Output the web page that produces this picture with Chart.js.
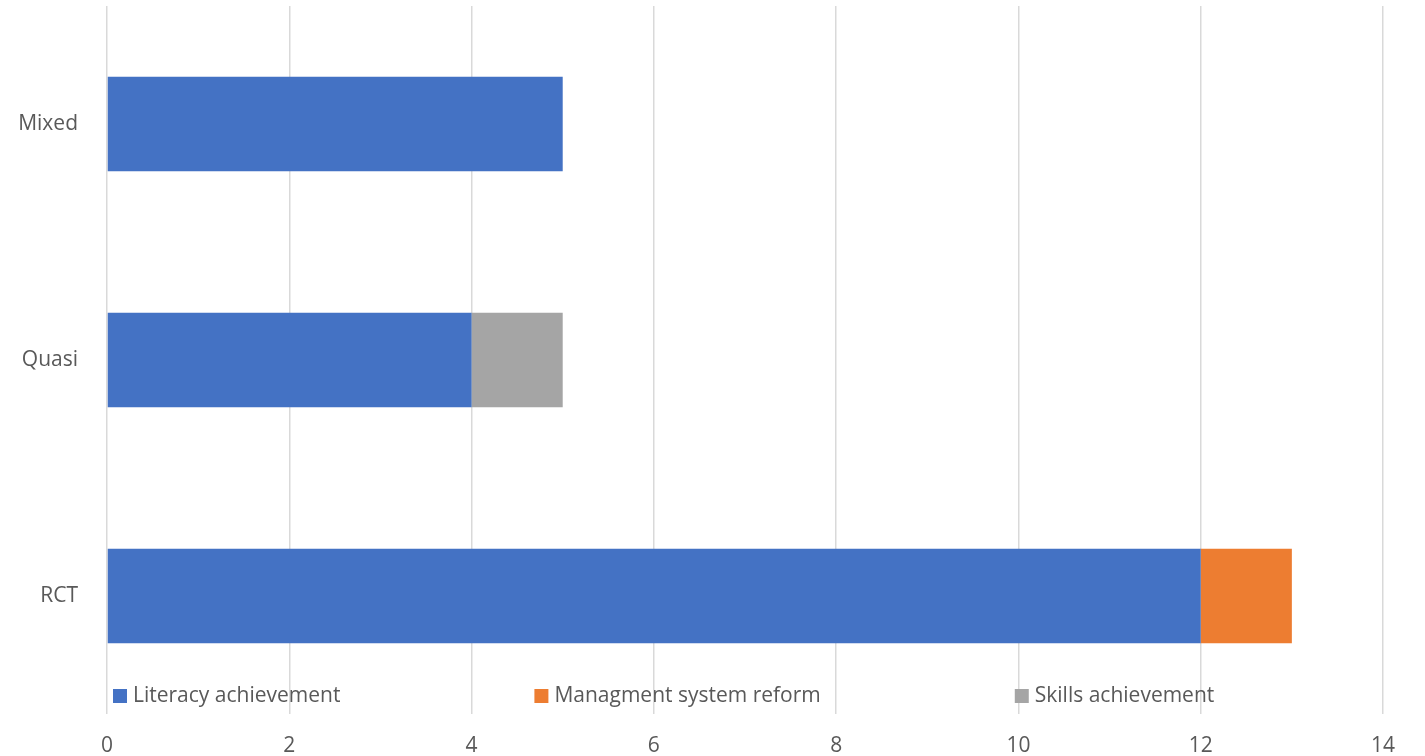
<!DOCTYPE html>
<html>
<head>
<meta charset="utf-8">
<script src="https://cdn.jsdelivr.net/npm/chart.js@4/dist/chart.umd.min.js"></script>
<style>
  html, body { margin: 0; padding: 0; background: #fff; }
  #wrap { width: 1425px; height: 756px; }
</style>
</head>
<body>
<div id="wrap"><canvas id="c" width="1425" height="756"></canvas></div>
<script>
const categories = ["Mixed", "Quasi", "RCT"];
const literacy = [5, 4, 12];
const management = [0, 0, 1];
const skills = [0, 1, 0];
const xTicks = [0, 2, 4, 6, 8, 10, 12, 14];

const FONT = "'Open Sans', 'Segoe UI', sans-serif";
const TEXT = "#595959";

// legend sits inside the plot, over the gridlines, like the Excel original
const insideLegend = {
  id: "insideLegend",
  afterDraw(chart) {
    const ctx = chart.ctx;
    const items = chart.data.datasets;
    ctx.save();
    ctx.font = "21px " + FONT;
    ctx.textBaseline = "middle";
    let x = 113;
    const y = 696;
    items.forEach(ds => {
      ctx.fillStyle = ds.backgroundColor;
      ctx.fillRect(x, y - 7, 14, 14);
      ctx.fillStyle = TEXT;
      ctx.fillText(ds.label, x + 20, y);
      x += 20 + ctx.measureText(ds.label).width + 194;
    });
    ctx.restore();
  }
};

new Chart(document.getElementById("c"), {
  type: "bar",
  data: {
    labels: categories,
    datasets: [
      { label: "Literacy achievement", data: literacy, backgroundColor: "#4472C4" },
      { label: "Managment system reform", data: management, backgroundColor: "#ED7D31" },
      { label: "Skills achievement", data: skills, backgroundColor: "#A5A5A5" }
    ]
  },
  options: {
    indexAxis: "y",
    responsive: false,
    animation: false,
    layout: { padding: { top: 6, right: 42, left: 0, bottom: 0 } },
    barPercentage: 1,
    categoryPercentage: 0.4,
    plugins: {
      legend: { display: false },
      tooltip: { enabled: false }
    },
    scales: {
      x: {
        stacked: true,
        min: 0,
        max: 14,
        afterBuildTicks(scale) {
          scale.ticks = xTicks.map(v => ({ value: v }));
        },
        afterFit(scale) { scale.height = 42; },
        grid: { color: "#d9d9d9", lineWidth: 1.5, drawTicks: false },
        border: { display: false },
        ticks: { color: TEXT, font: { family: FONT, size: 21 }, padding: 19 }
      },
      y: {
        stacked: true,
        afterFit(scale) {
          scale.width = 107;
          scale.paddingTop = 0;
          scale.paddingBottom = 0;
        },
        grid: { display: false, drawTicks: false },
        border: { display: false },
        ticks: { color: TEXT, font: { family: FONT, size: 21 }, padding: 29 }
      }
    }
  },
  plugins: [insideLegend]
});
</script>
</body>
</html>
